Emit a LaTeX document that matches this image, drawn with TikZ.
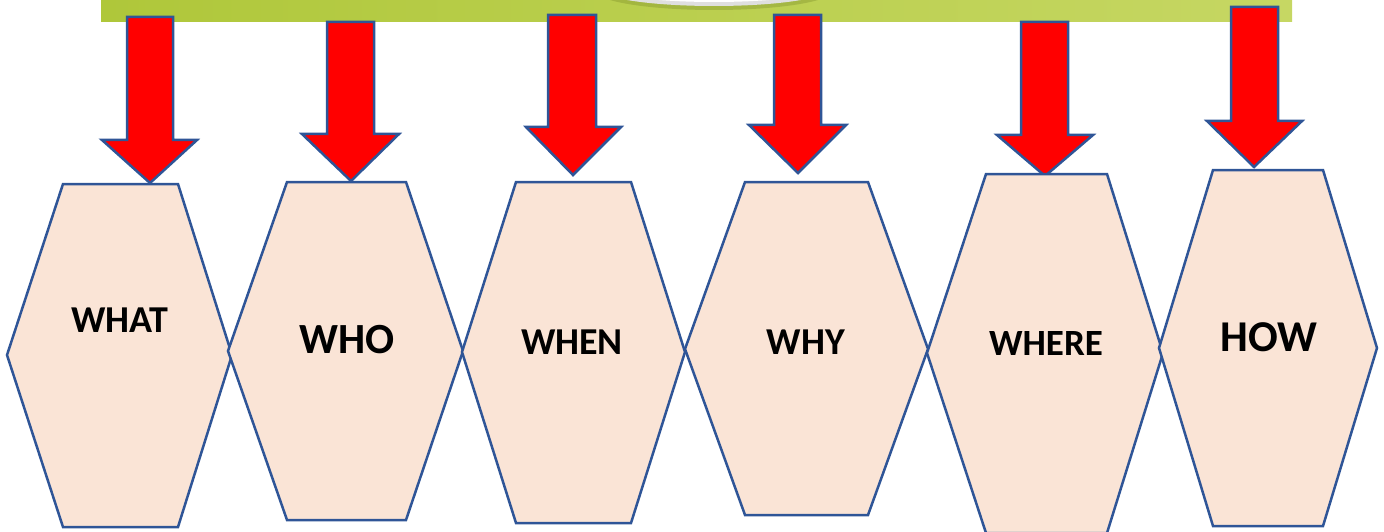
\documentclass[tikz,border=0pt]{standalone}
\usepackage{fontspec}
\setmainfont{Carlito}
\definecolor{hexfill}{HTML}{FAE4D6}
\definecolor{hexline}{HTML}{2F5597}
\definecolor{barL}{HTML}{AFC73A}
\definecolor{barR}{HTML}{C6D763}
\tikzset{
  hexshape/.style={fill=hexfill, draw=hexline, line width=2.5pt, line join=miter},
  blockarrow/.style={fill=red, draw=hexline, line width=2.5pt, line join=miter},
  word/.style={font=\bfseries, text=black, inner sep=0pt}
}
\begin{document}
\begin{tikzpicture}[x=1pt,y=-1pt]
\useasboundingbox (0,0) rectangle (1384,532);
\begin{scope}
\clip (0,0) rectangle (1384,532);
% green bar
\shade[left color=barL, right color=barR] (101,-5) rectangle (1292,22);
\fill[barL!70!black, opacity=0.35] (714,-9) ellipse (118 and 19);
\fill[gray!25] (714,-11) ellipse (114 and 17);
\fill[white] (714,-13) ellipse (110 and 15);
% arrows: shaft left, shaft right, top, head y, head left, head right, tip x, tip y
\foreach \sl/\sr/\t/\hy/\hl/\hr/\tx/\ty in {
  127/173/17/140/102/197/150/183,
  327/374/22/134/302/399/351/181,
  548/596/15/127/526/621/573/175,
  774/821/15/125/749/846/798/173,
  1021/1068/22/135/997/1093/1045/176,
  1231/1278/7/121/1207/1302/1254/167}
  \draw[blockarrow] (\sl,\t) -- (\sr,\t) -- (\sr,\hy) -- (\hr,\hy) -- (\tx,\ty) -- (\hl,\hy) -- (\sl,\hy) -- cycle;
% hexagons: L, R, mid y, top, bottom, top-left x, top-right x
\foreach \L/\R/\my/\tp/\bt/\tl/\tr in {
  7/232/355/184/527/63/178,
  228/463/351/182/520/287/406,
  462/685/352/182/523/516/631,
  685/928/349/182/515/745/868,
  927/1163/353/174/533/986/1107,
  1159/1377/348/170/526/1213/1323}
  \draw[hexshape] (\tl,\tp) -- (\tr,\tp) -- (\R,\my) -- (\tr,\bt) -- (\tl,\bt) -- (\L,\my) -- cycle;
\end{scope}
\node[word, font=\fontsize{38}{40}\selectfont\bfseries] (what) at (120,320) {WHAT};
\node[word, font=\fontsize{43}{46}\selectfont\bfseries] (who) at (347,340) {WHO};
\node[word, font=\fontsize{38}{40}\selectfont\bfseries] (when) at (572,342) {WHEN};
\node[word, font=\fontsize{38}{40}\selectfont\bfseries] (why) at (806,342) {WHY};
\node[word, font=\fontsize{37}{40}\selectfont\bfseries] (where) at (1046,344) {WHERE};
\node[word, font=\fontsize{44}{46}\selectfont\bfseries] (how) at (1269,337) {HOW};
\end{tikzpicture}
\end{document}
